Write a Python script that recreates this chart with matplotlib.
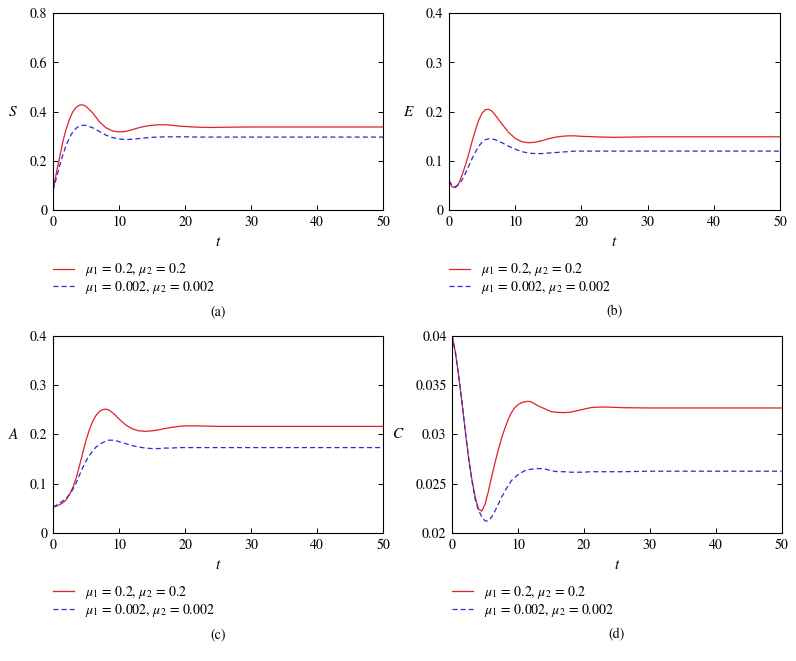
import numpy as np
import matplotlib
matplotlib.use('Agg')
import matplotlib.pyplot as plt

plt.rcParams['font.family'] = 'serif'
plt.rcParams['font.serif'] = ['STIXGeneral', 'Liberation Serif', 'DejaVu Serif']
plt.rcParams['mathtext.fontset'] = 'stix'

# S(t)
t_s = [0, 0.5, 1, 1.5, 2, 2.5, 3, 3.5, 4, 4.5, 5, 6, 7, 8, 9, 10, 11, 12, 13, 14,
       15, 16, 17, 18, 19, 20, 22, 24, 26, 30, 40, 50]
s_red = [0.08, 0.15, 0.215, 0.28, 0.33, 0.37, 0.40, 0.418, 0.427, 0.428, 0.422, 0.395,
         0.36, 0.335, 0.322, 0.318, 0.32, 0.327, 0.335, 0.341, 0.345, 0.347, 0.347,
         0.345, 0.342, 0.34, 0.337, 0.336, 0.337, 0.338, 0.338, 0.338]
s_blue = [0.08, 0.13, 0.18, 0.225, 0.265, 0.295, 0.318, 0.333, 0.342, 0.345, 0.344,
          0.335, 0.32, 0.305, 0.295, 0.289, 0.287, 0.288, 0.291, 0.294, 0.296, 0.297,
          0.298, 0.298, 0.298, 0.298, 0.297, 0.297, 0.297, 0.297, 0.297, 0.297]

# E(t)
t_e = [0, 0.5, 1, 1.5, 2, 2.5, 3, 3.5, 4, 4.5, 5, 5.5, 6, 6.5, 7, 8, 9, 10, 11, 12,
       13, 14, 15, 16, 17, 18, 19, 20, 22, 25, 30, 50]
e_red = [0.06, 0.047, 0.046, 0.055, 0.072, 0.092, 0.115, 0.14, 0.163, 0.183, 0.197,
         0.204, 0.205, 0.201, 0.193, 0.175, 0.158, 0.146, 0.139, 0.137, 0.138, 0.141,
         0.145, 0.148, 0.150, 0.151, 0.151, 0.150, 0.149, 0.148, 0.149, 0.149]
e_blue = [0.06, 0.05, 0.048, 0.052, 0.062, 0.075, 0.09, 0.105, 0.118, 0.13, 0.138,
          0.143, 0.145, 0.145, 0.143, 0.137, 0.13, 0.124, 0.119, 0.116, 0.115, 0.115,
          0.116, 0.117, 0.118, 0.119, 0.12, 0.12, 0.12, 0.12, 0.12, 0.12]

# A(t)
t_a = [0, 0.5, 1, 1.5, 2, 2.5, 3, 3.5, 4, 4.5, 5, 5.5, 6, 6.5, 7, 7.5, 8, 8.5, 9,
       9.5, 10, 11, 12, 13, 14, 15, 16, 17, 18, 19, 20, 22, 25, 50]
a_red = [0.052, 0.054, 0.057, 0.061, 0.067, 0.078, 0.092, 0.111, 0.136, 0.162, 0.188,
         0.209, 0.226, 0.238, 0.246, 0.250, 0.251, 0.249, 0.244, 0.238, 0.231, 0.219,
         0.211, 0.207, 0.206, 0.207, 0.209, 0.212, 0.214, 0.216, 0.217, 0.217, 0.216,
         0.216]
a_blue = [0.052, 0.056, 0.060, 0.065, 0.070, 0.078, 0.088, 0.101, 0.117, 0.132, 0.146,
          0.157, 0.166, 0.174, 0.179, 0.183, 0.186, 0.188, 0.188, 0.187, 0.185, 0.181,
          0.177, 0.174, 0.172, 0.171, 0.171, 0.172, 0.172, 0.173, 0.173, 0.173, 0.173,
          0.173]

# C(t)
t_c = [0, 0.5, 1, 1.5, 2, 2.5, 3, 3.5, 4, 4.5, 5, 5.5, 6, 6.5, 7, 7.5, 8, 8.5, 9,
       9.5, 10, 10.5, 11, 11.5, 12, 12.5, 13, 14, 15, 16, 17, 18, 19, 20, 21, 22, 23,
       24, 26, 30, 50]
c_red = [0.04, 0.0383, 0.0359, 0.0332, 0.0303, 0.0276, 0.0254, 0.0236, 0.0224, 0.0222,
         0.0229, 0.0242, 0.0257, 0.0271, 0.0284, 0.0296, 0.0306, 0.0315, 0.0322, 0.0327,
         0.0330, 0.0332, 0.0333, 0.03334, 0.0333, 0.0331, 0.0329, 0.0326, 0.0323,
         0.03222, 0.0322, 0.03225, 0.0324, 0.03255, 0.0327, 0.03275, 0.03277, 0.03275,
         0.0327, 0.03267, 0.03267]
c_blue = [0.04, 0.0383, 0.0359, 0.0332, 0.0303, 0.0276, 0.0253, 0.0234, 0.0223, 0.0216,
          0.0212, 0.0212, 0.0216, 0.0222, 0.0229, 0.0236, 0.0242, 0.0248, 0.0253, 0.0256,
          0.0259, 0.0261, 0.0263, 0.0264, 0.02645, 0.0265, 0.02652, 0.0265, 0.0263,
          0.0262, 0.0262, 0.02615, 0.02615, 0.02615, 0.0262, 0.0262, 0.0262, 0.0262,
          0.0262, 0.02625, 0.02625]

labels = [r'$\mu_1$ = 0.2, $\mu_2$ = 0.2', r'$\mu_1$ = 0.002, $\mu_2$ = 0.002']
red = '#e0202a'
blue = '#2a2ad8'

panels = [
    ('S', t_s, s_red, s_blue, [0, 0.2, 0.4, 0.6, 0.8], ['0', '0.2', '0.4', '0.6', '0.8'], '(a)'),
    ('E', t_e, e_red, e_blue, [0, 0.1, 0.2, 0.3, 0.4], ['0', '0.1', '0.2', '0.3', '0.4'], '(b)'),
    ('A', t_a, a_red, a_blue, [0, 0.1, 0.2, 0.3, 0.4], ['0', '0.1', '0.2', '0.3', '0.4'], '(c)'),
    ('C', t_c, c_red, c_blue, [0.02, 0.025, 0.03, 0.035, 0.04],
     ['0.02', '0.025', '0.03', '0.035', '0.04'], '(d)'),
]
rects = [
    [0.0666, 0.682, 0.415, 0.298],
    [0.564, 0.682, 0.416, 0.298],
    [0.0666, 0.194, 0.415, 0.298],
    [0.568, 0.194, 0.414, 0.298],
]

fig = plt.figure(figsize=(7.96, 6.61), dpi=100)
for (name, t, yr, yb, yt, ytl, cap), r in zip(panels, rects):
    ax = fig.add_axes(r)
    ax.plot(t, yr, color=red, lw=0.9, label=labels[0])
    ax.plot(t, yb, color=blue, lw=0.9, ls=(0, (4, 2.5)), label=labels[1])
    ax.set_xlim(0, 50)
    ax.set_ylim(yt[0], yt[-1])
    ax.set_xticks([0, 10, 20, 30, 40, 50])
    ax.set_yticks(yt)
    ax.set_yticklabels(ytl)
    ax.tick_params(direction='in', length=3.5, width=0.7, labelsize=10, right=True,
                   top=False, pad=4)
    for sp in ax.spines.values():
        sp.set_linewidth(0.8)
    ax.set_xlabel('$t$', fontsize=11, labelpad=5)
    ax.set_ylabel('$%s$' % name, fontsize=11, rotation=0, labelpad=12, va='center')
    ax.legend(loc='upper left', bbox_to_anchor=(0, -0.26), frameon=False, fontsize=10,
              handlelength=1.5, handletextpad=0.8, labelspacing=0.05, borderpad=0,
              borderaxespad=0)
    ax.text(0.5, -0.515, cap, transform=ax.transAxes, ha='center', va='center', fontsize=10)

fig.savefig('out.png', dpi=100)
